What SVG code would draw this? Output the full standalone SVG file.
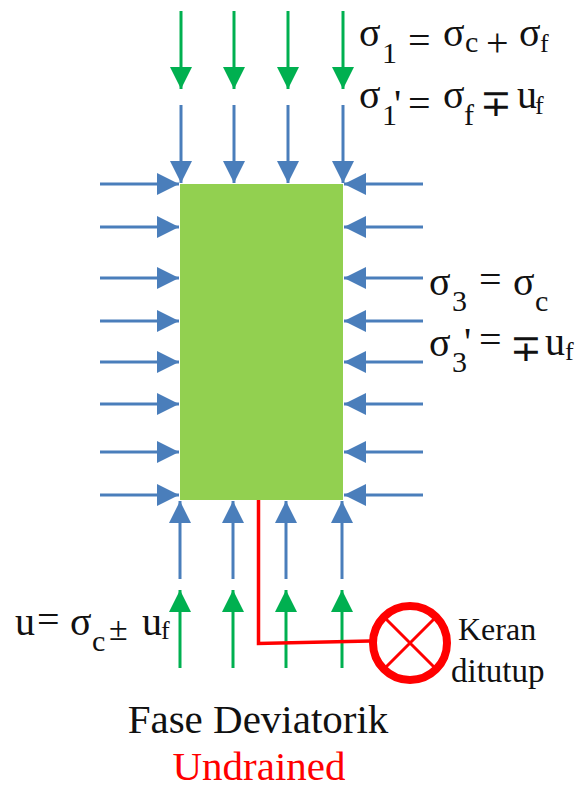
<svg xmlns="http://www.w3.org/2000/svg" width="579" height="785" viewBox="0 0 579 785">
<style>
text{font-family:"Liberation Serif","Times New Roman",serif;fill:#111}
.b{stroke:#4a7ebb;stroke-width:3;fill:none;marker-end:url(#mb)}
.g{stroke:#00b050;stroke-width:3;fill:none;marker-end:url(#mg)}
.r{stroke:#f00;fill:none}
.l{font-size:40px}.s{font-size:30px}.f{font-size:26px}.o{font-size:38px;font-weight:300}
</style>
<defs>
<marker id="mb" markerUnits="userSpaceOnUse" markerWidth="24" markerHeight="24" refX="22" refY="11" orient="auto"><path d="M0 0L22 11L0 22Z" fill="#4a7ebb"/></marker>
<marker id="mg" markerUnits="userSpaceOnUse" markerWidth="24" markerHeight="24" refX="22" refY="11" orient="auto"><path d="M0 0L22 11L0 22Z" fill="#00b050"/></marker>
</defs>
<rect width="579" height="785" fill="#fff"/>
<g id="sample"><rect x="180" y="184" width="163" height="316" fill="#92d050"/></g>
<g id="connectors">
<path class="g" d="M181 11V89"/><path class="g" d="M234 11V89"/><path class="g" d="M288 11V89"/><path class="g" d="M343 11V89"/>
<path class="b" d="M181 105V183"/><path class="b" d="M234 105V183"/><path class="b" d="M288 105V183"/><path class="b" d="M343 105V183"/>
<path class="b" d="M100 184H179"/><path class="b" d="M100 227H179"/><path class="b" d="M100 278H179"/><path class="b" d="M100 321H179"/><path class="b" d="M100 362H179"/><path class="b" d="M100 404H179"/><path class="b" d="M100 452H179"/><path class="b" d="M100 495H179"/>
<path class="b" d="M423 184H344"/><path class="b" d="M423 227H344"/><path class="b" d="M423 278H344"/><path class="b" d="M423 321H344"/><path class="b" d="M423 362H344"/><path class="b" d="M423 404H344"/><path class="b" d="M423 452H344"/><path class="b" d="M423 495H344"/>
<path class="b" d="M180 579V501"/><path class="b" d="M233 579V501"/><path class="b" d="M286 579V501"/><path class="b" d="M342 579V501"/>
<path class="g" d="M180 668V590"/><path class="g" d="M233 668V590"/><path class="g" d="M286 668V590"/><path class="g" d="M342 668V590"/>
<path class="r" stroke-width="3.500" d="M258.500 500V643.500L370 641"/>
</g>
<g id="valve">
<circle cx="410" cy="643" r="37" fill="#fff" class="r" stroke-width="8"/>
<path class="r" stroke-width="3" d="M386 619L434 667M434 619L386 667"/>
</g>
<g id="labels">
<text class="l" x="359" y="46">σ</text><text class="s" x="382" y="63">1</text><text class="l" x="408" y="54">=</text><text class="l" x="443" y="46">σ</text><text class="s" x="465" y="52">c</text><text class="l" x="486" y="56">+</text><text class="l" x="519" y="46">σ</text><text class="f" x="540" y="52">f</text>
<text class="l" x="359" y="108">σ</text><text class="s" x="382" y="125">1</text><text class="l" x="394" y="117">'</text><text class="l" x="408" y="117">=</text><text class="l" x="443" y="108">σ</text><text class="s" x="464" y="125">f</text><text class="o" x="480" y="116">∓</text><text class="l" x="517" y="108">u</text><text class="f" x="535" y="114">f</text>
<text class="l" x="429" y="295">σ</text><text class="s" x="452" y="311">3</text><text class="l" x="479" y="293">=</text><text class="l" x="513" y="295">σ</text><text class="s" x="535" y="311">c</text>
<text class="l" x="429" y="356">σ</text><text class="s" x="452" y="372">3</text><text class="l" x="464" y="355">'</text><text class="l" x="479" y="353">=</text><text class="o" x="510" y="361">∓</text><text class="l" x="545" y="355">u</text><text class="f" x="565" y="360">f</text>
<text class="l" x="15" y="635">u</text><text class="l" x="37" y="633">=</text><text class="l" x="70" y="635">σ</text><text class="s" x="92" y="651">c</text><text class="o" x="109" y="640" style="font-size:34px">±</text><text class="l" x="142" y="635">u</text><text class="f" x="161" y="639">f</text>
<text x="458" y="640" font-size="32">Keran</text>
<text x="451" y="682" font-size="33">ditutup</text>
<text x="258" y="733" font-size="41" text-anchor="middle">Fase Deviatorik</text>
<text x="259" y="780" font-size="41" text-anchor="middle" style="fill:#f00">Undrained</text>
</g>
</svg>
